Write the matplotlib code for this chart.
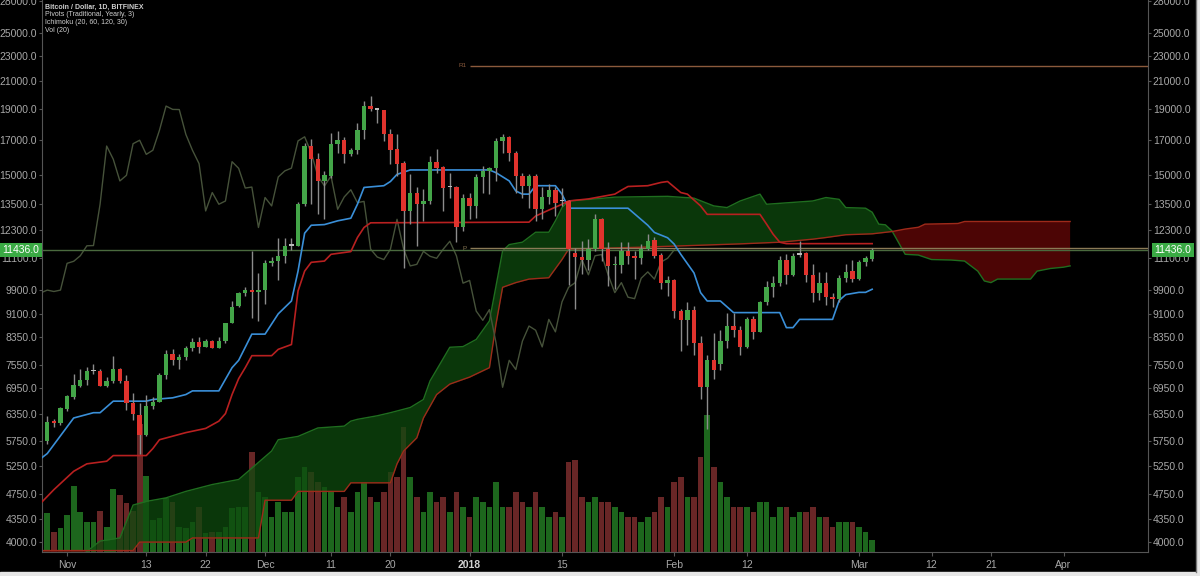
import matplotlib
matplotlib.use("Agg")
import matplotlib.pyplot as plt
import numpy as np
import pandas as pd
from matplotlib.ticker import NullLocator, FixedLocator, FixedFormatter
from matplotlib.lines import Line2D
from matplotlib.patches import Rectangle

plt.rcParams["font.family"] = ["Liberation Sans", "DejaVu Sans"]

# daily candles, Bitfinex BTC/USD, first candle 2017-10-29
start = pd.Timestamp("2017-10-29")

opens = [5750, 6180, 6140, 6450, 6750, 7020, 7160, 7400, 7400, 7020,
         7140, 7460, 7150, 6590, 6320, 5880, 6530, 6620, 7300, 7870,
         7700, 7770, 8040, 8210, 8080, 8250, 8050, 8240, 8800, 9340,
         9800, 9900, 9850, 9900, 10900, 10980, 11200, 11620, 11620, 13480,
         16620, 15850, 14660, 14920, 16760, 16970, 16130, 16370, 17590, 19190,
         18950, 18900, 17380, 16470, 15650, 13160, 14060, 13510, 13640, 15710,
         15410, 14340, 14350, 12400, 13780, 13400, 14870, 15200, 15330, 16930,
         17180, 16230, 14920, 14400, 14920, 13240, 13840, 14200, 13620, 13640,
         11300, 11150, 11050, 11470, 12770, 11470, 10820, 10850, 11380, 11180,
         11100, 11470, 11860, 11250, 10150, 10250, 9180, 8880, 9230, 8190,
         6980, 7690, 7600, 8240, 8700, 8570, 8070, 8920, 8520, 9490,
         10000, 10150, 11050, 10460, 11250, 11300, 10450, 9810, 10170, 9660,
         9600, 10330, 10600, 10300, 10950, 11070]
highs = [6300, 6230, 6500, 6780, 7320, 7450, 7500, 7600, 7450, 7250,
         7800, 7480, 7300, 6850, 6600, 6800, 6750, 7340, 7970, 8000,
         7880, 8100, 8340, 8370, 8300, 8270, 8370, 8790, 9520, 9830,
         10000, 11410, 10530, 11050, 11150, 11940, 11950, 11950, 13600, 16800,
         17030, 16230, 15200, 17440, 17540, 17180, 16520, 18070, 19540, 19900,
         19050, 18950, 17650, 17330, 15750, 15010, 14320, 14230, 16040, 16430,
         15450, 15100, 14400, 13980, 14060, 15010, 15450, 15400, 17130, 17330,
         17200, 16330, 15100, 15010, 15010, 14320, 14500, 14320, 14300, 13700,
         11500, 11820, 11880, 13000, 12830, 11760, 11200, 11760, 11760, 11400,
         11700, 12100, 12000, 11300, 10400, 10300, 9250, 9500, 9350, 8380,
         7850, 8490, 8590, 9130, 9130, 8700, 9000, 9030, 9530, 10230,
         10400, 11200, 11260, 11300, 11800, 11350, 10880, 10570, 10570, 9800,
         10450, 10880, 11050, 11050, 11200, 11520]
lows = [5700, 6050, 6100, 6400, 6700, 6980, 7050, 7330, 7000, 6990,
        7100, 7080, 6430, 6200, 5500, 5850, 6450, 6620, 7180, 7560,
        7460, 7700, 7950, 7890, 8070, 8040, 8050, 8190, 8780, 9300,
        9700, 8950, 8860, 9420, 10800, 10250, 10900, 11450, 11600, 13400,
        13480, 13000, 12770, 14830, 16230, 15650, 16040, 16130, 17030, 18850,
        18070, 16930, 15560, 14920, 10730, 12550, 11610, 12700, 13480, 15100,
        13160, 13810, 11760, 12250, 12770, 12850, 14060, 13980, 14660, 16230,
        15750, 14060, 13810, 13320, 12700, 12770, 13480, 12900, 13400, 10100,
        9250, 10500, 10650, 11400, 10980, 10050, 9950, 10520, 10880, 10300,
        10880, 11450, 11100, 9950, 9700, 8950, 7950, 8120, 7850, 6690,
        6000, 7180, 7440, 8050, 8360, 7850, 8050, 8300, 8500, 9400,
        9650, 10050, 10130, 10400, 11140, 10200, 9500, 9560, 9380, 9300,
        9500, 10200, 10200, 10250, 10800, 11000]
closes = [6150, 6130, 6480, 6770, 7050, 7170, 7390, 7400, 7020, 7140,
          7460, 7140, 6590, 6330, 5880, 6530, 6620, 7300, 7870, 7700,
          7790, 8040, 8210, 8070, 8250, 8040, 8250, 8790, 9330, 9800,
          9900, 9850, 9900, 10900, 10980, 11200, 11610, 11620, 13480, 16620,
          15850, 14660, 14960, 16760, 16970, 16130, 16370, 17590, 19190, 18960,
          18950, 17330, 16370, 15600, 13160, 14060, 13480, 13640, 15710, 15340,
          14290, 14340, 12400, 13810, 13400, 14870, 15200, 15350, 16930, 17180,
          16230, 14920, 14400, 14920, 13240, 13840, 14200, 13560, 13620, 11470,
          11150, 11050, 11470, 12770, 11470, 10800, 10860, 11380, 11180, 11100,
          11470, 11800, 11200, 10150, 10250, 9180, 8880, 9230, 8190, 6980,
          7690, 7440, 8240, 8700, 8570, 8070, 8910, 8520, 9490, 10000,
          10170, 11050, 10460, 11200, 11250, 10450, 9810, 10170, 9650, 9600,
          10330, 10570, 10300, 10950, 11100, 11436]
volume = [39, 20, 24, 37, 66, 40, 30, 30, 41, 25,
          63, 57, 49, 41, 128, 76, 32, 34, 54, 50,
          25, 24, 30, 45, 19, 20, 20, 25, 44, 45,
          45, 100, 60, 55, 35, 50, 40, 40, 75, 85,
          80, 70, 65, 60, 45, 55, 40, 60, 70, 55,
          50, 60, 80, 75, 125, 75, 55, 40, 60, 50,
          55, 40, 60, 45, 35, 55, 50, 45, 70, 45,
          45, 60, 50, 45, 60, 45, 35, 40, 35, 90,
          92, 55, 50, 55, 50, 50, 45, 40, 35, 35,
          30, 35, 40, 55, 45, 70, 75, 55, 55, 95,
          137, 85, 70, 55, 45, 45, 45, 40, 50, 50,
          35, 45, 45, 35, 40, 40, 45, 35, 35, 25,
          30, 30, 30, 25, 20, 12]

# Ichimoku (20, 60, 120, 30) lines: (day index, price)
tenkan_x = [-1, 0, 4, 7, 8, 10, 15, 16, 19, 21, 22, 26, 28, 29, 31, 33, 35, 37, 38, 39,
            40, 42, 44, 46, 47, 48, 51, 52, 53, 55, 67, 68, 70, 71, 72, 73, 74, 77, 78, 79,
            88, 91, 92, 94, 95, 96, 98, 99, 100, 102, 104, 111, 112, 113, 114, 119, 120, 121,
            123, 124, 125]
tenkan_y = [5400, 5500, 6250, 6370, 6370, 6640, 6640, 6680, 6720, 6800, 6890, 6890, 7490, 7690,
            8450, 8450, 9090, 9520, 10600, 12150, 12500, 12530, 12700, 12820, 13480, 14320,
            14410, 14630, 15010, 15250, 15250, 15100, 14660, 14140, 13980, 13980, 14410, 14410,
            13980, 13290, 13290, 12500, 12180, 11950, 11680, 11260, 10530, 9810, 9520, 9520,
            9130, 9130, 8650, 8650, 8910, 8910, 9540, 9740, 9820, 9820, 9930]
kijun_x = [-1, 1, 4, 6, 9, 10, 15, 16, 17, 21, 24, 26, 27, 28, 29, 30, 31, 34, 35, 37,
           38, 39, 40, 42, 43, 46, 47, 48, 49, 73, 74, 76, 78, 79, 82, 86, 87, 88, 91, 93,
           94, 96, 97, 99, 100, 108, 109, 110, 111, 112, 125]
kijun_y = [4600, 4830, 5160, 5300, 5350, 5460, 5460, 5600, 5780, 5930, 6020, 6180, 6350, 6800,
           7200, 7490, 7820, 7820, 8000, 8140, 9870, 10600, 10940, 10990, 11260, 11370, 11960,
           12400, 12610, 12640, 12920, 13200, 13480, 13640, 13740, 13980, 14180, 14370, 14410,
           14580, 14630, 14060, 13980, 13400, 13000, 13000, 12550, 12100, 11760, 11700, 11700]
span_a_x = [-1, 5, 6, 8, 11, 13, 15, 18, 21, 25, 29, 34, 35, 38, 41, 45, 46, 47, 50, 52,
            55, 57, 58, 61, 63, 65, 67, 69, 70, 72, 74, 76, 77, 78, 79, 83, 86, 94, 98, 101,
            103, 105, 108, 109, 116, 118, 120, 121, 124, 125, 126, 127, 128, 130, 132, 134,
            137, 139, 141, 142, 143, 144, 149, 150, 152, 154, 155]
span_a_y = [3750, 3780, 3870, 4015, 4060, 4570, 4630, 4690, 4800, 4920, 5010, 5550, 5780, 5850,
            6030, 6070, 6180, 6220, 6300, 6370, 6490, 6680, 7140, 8060, 8080, 8290, 8860, 11400,
            11660, 11760, 12190, 12190, 12700, 13320, 13640, 13740, 13830, 13870, 13780, 13400,
            13320, 13640, 13980, 13480, 13640, 13810, 13720, 13320, 13290, 13100, 12550, 12520,
            12250, 11260, 11230, 11050, 11030, 10990, 10600, 10230, 10170, 10300, 10300, 10600,
            10700, 10750, 10800]
span_b_x = [-1, 13, 14, 21, 22, 32, 33, 37, 38, 45, 46, 52, 53, 54, 56, 57, 59, 61, 64, 67,
            68, 69, 71, 73, 76, 78, 79, 90, 105, 111, 116, 118, 121, 125, 128, 130, 132, 133,
            138, 139, 155]
span_b_y = [3880, 3880, 4000, 4000, 4060, 4060, 4650, 4650, 4800, 4800, 4950, 4950, 5300, 5550,
            5820, 6250, 6800, 7060, 7240, 7490, 8760, 10000, 10170, 10300, 10350, 11050, 11470,
            11550, 11690, 11760, 11890, 11960, 12080, 12120, 12220, 12330, 12410, 12550, 12580,
            12670, 12670]
lag = 30

last_price = 11436
pivot_p = 11507
pivot_r1 = 22200

price_ticks = [4000, 4350, 4750, 5250, 5750, 6350, 6950, 7550, 8350, 9100, 9900, 11100,
               12300, 13500, 15000, 17000, 19000, 21000, 23000, 25000, 28000]
date_ticks = ["2017-11-01", "2017-11-13", "2017-11-22", "2017-12-01", "2017-12-11",
              "2017-12-20", "2018-01-01", "2018-01-15", "2018-02-01", "2018-02-12",
              "2018-03-01", "2018-03-12", "2018-03-21", "2018-04-01"]
date_labels = ["Nov", "13", "22", "Dec", "11", "20", "2018", "15", "Feb", "12",
               "Mar", "12", "21", "Apr"]

UP = "#43a548"
DOWN = "#e0332d"
TXT = "#a8a8a8"
EDGE = "#555555"

o = np.array(opens, float)
h = np.array(highs, float)
l = np.array(lows, float)
c = np.array(closes, float)
v = np.array(volume, float)
x = np.arange(len(c))

fig = plt.figure(figsize=(12, 5.76), dpi=100, facecolor="black")
rect = [42 / 1200, 24 / 576, 1106 / 1200, 552 / 576]

# volume pane underneath
axv = fig.add_axes(rect)
axv.set_facecolor("black")
vcol = np.where(c >= o, "#1d661d", "#682626")
axv.bar(x, v, width=0.86, color=vcol, linewidth=0)
axv.set_ylim(0, v.max() * 4.03)
axv.set_xlim(-0.8, 166.8)
axv.axis("off")

ax = fig.add_axes(rect, sharex=axv)
ax.set_facecolor("none")
ax.set_yscale("log")
ax.set_ylim(3860, 28100)
ax.set_xlim(-0.8, 166.8)

# cloud
xx = np.linspace(-1, 155, 1561)
sa = np.interp(xx, span_a_x, span_a_y)
sb = np.interp(xx, span_b_x, span_b_y)
ax.fill_between(xx, sa, sb, where=sa >= sb, interpolate=True, color="#0e4a0e", alpha=0.75,
                linewidth=0, zorder=1)
ax.fill_between(xx, sa, sb, where=sa < sb, interpolate=True, color="#5a0707", alpha=0.85,
                linewidth=0, zorder=1)
ax.plot(span_a_x, span_a_y, color="#1f6e1f", lw=1, zorder=2)
ax.plot(span_b_x, span_b_y, color="#9e2a1a", lw=1, zorder=2)

# lagging span = close shifted back
ax.plot(x[lag - 1:] - lag, c[lag - 1:], color="#46523a", lw=1, zorder=2)
ax.plot(tenkan_x, tenkan_y, color="#3a8fd8", lw=1.2, zorder=3)
ax.plot(kijun_x, kijun_y, color="#b82020", lw=1.2, zorder=3)

# price line + pivots
ax.axhline(last_price, color="#4a6a3e", lw=1, zorder=2)
ax.hlines(pivot_p, 64, 166.8, color="#8a7a56", lw=1, zorder=2)
ax.hlines(pivot_r1, 64, 166.8, color="#8b5a3c", lw=1, zorder=2)
ax.text(63.6, pivot_r1, "R1", color="#8b5a3c", fontsize=4.5, ha="right", va="center")
ax.text(63.6, pivot_p, "P", color="#8a7a56", fontsize=4.5, ha="right", va="center")

# candles
col = np.where(c > o, UP, np.where(c < o, DOWN, "#bbbbbb"))
ax.vlines(x, l, h, color="#8c8c8c", lw=1, zorder=4)
body_lo = np.minimum(o, c)
body_h = np.maximum(np.abs(c - o), body_lo * 0.004)
ax.bar(x, body_h, bottom=body_lo, width=0.66, color=col, linewidth=0, zorder=5)

# axes styling
ax.spines["top"].set_visible(False)
for s in ["left", "right", "bottom"]:
    ax.spines[s].set_color(EDGE)
ax.yaxis.set_major_locator(FixedLocator(price_ticks))
ax.yaxis.set_major_formatter(FixedFormatter([f"{p:.1f}" for p in price_ticks]))
ax.yaxis.set_minor_locator(NullLocator())
ax.tick_params(axis="y", which="both", left=True, right=True, labelleft=True,
               labelright=True, labelsize=7.5, labelcolor=TXT, color=EDGE,
               length=2, pad=1.5)

tick_pos = [(pd.Timestamp(d) - start).days for d in date_ticks]
ax.set_xticks(tick_pos)
ax.set_xticklabels(date_labels)
ax.tick_params(axis="x", labelsize=7.5, labelcolor=TXT, color=EDGE, length=3, pad=3)
for t in ax.get_xticklabels():
    if t.get_text() == "2018":
        t.set_fontweight("bold")
        t.set_color("#d0d0d0")

# last price tags
tr = ax.get_yaxis_transform()
for xa in (-0.019, 1.0226):
    ax.text(xa, last_price, f"{last_price:.1f}", transform=tr, ha="center", va="center",
            color="white", fontsize=7.5, clip_on=False, zorder=10,
            bbox=dict(boxstyle="square,pad=0.22", fc="#3aaa44", ec="none"))

# study legend
legend = ["Bitcoin / Dollar, 1D, BITFINEX", "Pivots (Traditional, Yearly, 3)",
          "Ichimoku (20, 60, 120, 30)", "Vol (20)"]
for k, txt in enumerate(legend):
    fig.text(45 / 1200, 1 - (7 + 8 * k) / 576, txt, fontsize=5, color="#d0d0d0",
             va="center", fontweight="bold" if k == 0 else "normal")

# window frame edges
fig.add_artist(Line2D([1196 / 1200, 1196 / 1200], [4 / 576, 1], color="#777777", lw=1))
fig.add_artist(Rectangle((0, 0), 1, 4 / 576, color="#e6e6e6", transform=fig.transFigure))
fig.add_artist(Rectangle((1197 / 1200, 0), 3 / 1200, 1, color="#e6e6e6",
                         transform=fig.transFigure))

fig.savefig("out.png", dpi=100, facecolor="black")
